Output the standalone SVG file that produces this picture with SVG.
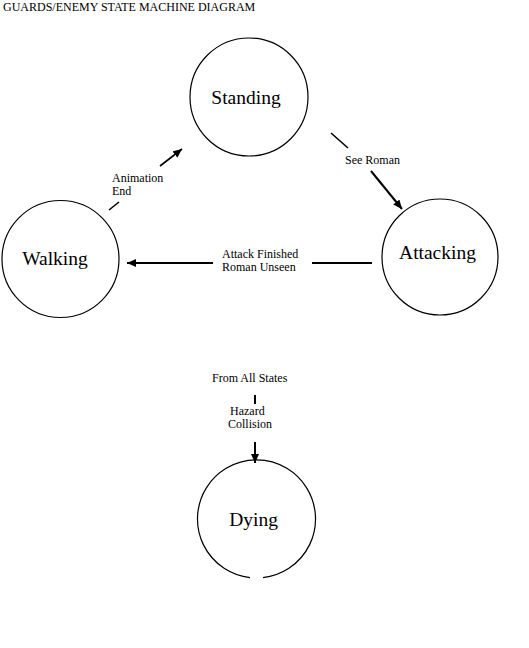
<svg xmlns="http://www.w3.org/2000/svg" width="529" height="648" viewBox="0 0 529 648">
<style>
text{font-family:"Liberation Serif","Times New Roman",serif;fill:#000}
.lbl{font-size:12px}
.node{font-size:19.5px;text-anchor:middle}
.st{fill:none;stroke:#000;stroke-width:1.2}
.ln{fill:none;stroke:#000;stroke-width:1.6}
.ar{fill:none;stroke:#000;stroke-width:2}
</style>
<defs>
<marker id="ah" markerUnits="userSpaceOnUse" markerWidth="10" markerHeight="8" refX="9" refY="4" orient="auto">
<path d="M0,0 L9,4 L0,8 z" fill="#000"/>
</marker>
</defs>
<rect width="529" height="648" fill="#fff"/>
<text class="lbl" x="3" y="11">GUARDS/ENEMY STATE MACHINE DIAGRAM</text>
<g id="standing"><circle class="st" cx="249" cy="97" r="59"/><text class="node" x="246" y="104">Standing</text></g>
<g id="walking"><circle class="st" cx="60.5" cy="259" r="58.5"/><text class="node" x="55" y="265">Walking</text></g>
<g id="attacking"><circle class="st" cx="440" cy="257" r="58"/><text class="node" x="437.5" y="259">Attacking</text></g>
<g id="dying"><path class="st" d="M263 577.6 A59 59 0 1 0 250 577.6"/><text class="node" x="253.5" y="526">Dying</text></g>
<g id="connectors">
<line class="ln" x1="109" y1="210" x2="119" y2="202"/>
<line class="ln" x1="160" y1="166" x2="182" y2="149" marker-end="url(#ah)"/>
<text class="lbl" x="112" y="182">Animation</text>
<text class="lbl" x="112" y="195">End</text>
<line class="ln" x1="331" y1="133" x2="348" y2="148"/>
<line class="ar" x1="371" y1="171" x2="402" y2="209" marker-end="url(#ah)"/>
<text class="lbl" x="345" y="164">See Roman</text>
<line class="ar" x1="372" y1="263" x2="312" y2="263"/>
<line class="ar" x1="213" y1="263" x2="127" y2="263" marker-end="url(#ah)"/>
<text class="lbl" x="222" y="258">Attack Finished</text>
<text class="lbl" x="222" y="271">Roman Unseen</text>
<text class="lbl" x="212" y="382">From All States</text>
<line class="ar" x1="255" y1="395" x2="255" y2="404"/>
<text class="lbl" x="230" y="415">Hazard</text>
<text class="lbl" x="228" y="428">Collision</text>
<line class="ar" x1="255" y1="442" x2="255" y2="463" marker-end="url(#ah)"/>
</g>
</svg>
